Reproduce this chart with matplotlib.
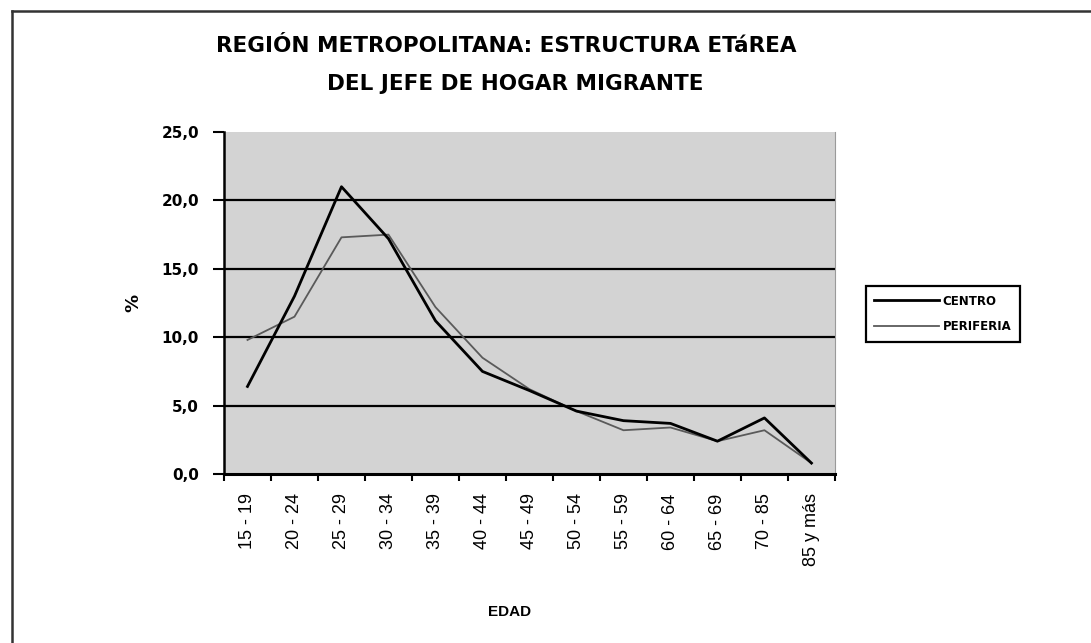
import matplotlib.pyplot as plt
import matplotlib.lines as mlines
import numpy as np

# Data
edades = ['15 - 19', '20 - 24', '25 - 29', '30 - 34', '35 - 39', '40 - 44',
          '45 - 49', '50 - 54', '55 - 59', '60 - 64', '65 - 69', '70 - 85',
          '85 y más']
centro = [6.4, 13.0, 21.0, 17.2, 11.2, 7.5, 6.1, 4.6, 3.9, 3.7, 2.4, 4.1, 0.8]
periferia = [9.8, 11.5, 17.3, 17.5, 12.2, 8.5, 6.2, 4.6, 3.2, 3.4, 2.4, 3.2, 0.8]
y_ticks = [0, 5, 10, 15, 20, 25]
y_labels = ['0,0', '5,0', '10,0', '15,0', '20,0', '25,0']

fig = plt.figure(figsize=(10.91, 6.43), dpi=100)
ax = fig.add_axes([0.2053, 0.2628, 0.560, 0.5319])

x = np.arange(len(edades))
ax.set_facecolor('#d3d3d3')
ax.plot(x, periferia, color='#5a5a5a', linewidth=1.3, zorder=3)
ax.plot(x, centro, color='black', linewidth=2.0, zorder=4)

ax.set_xlim(-0.5, len(edades) - 0.5)
ax.set_ylim(0, 25)

# horizontal gridlines
for v in y_ticks[1:-1]:
    ax.axhline(v, color='black', linewidth=1.6, zorder=2)

ax.set_yticks(y_ticks)
ax.set_yticklabels(y_labels, fontsize=11, fontweight='bold')
ax.tick_params(axis='y', direction='out', length=8, width=1.5, pad=10)

ax.set_xticks(x)
ax.set_xticklabels(edades, rotation=90, fontsize=13, family='Liberation Sans')
ax.set_xticks(np.arange(len(edades) + 1) - 0.5, minor=True)
ax.tick_params(axis='x', which='major', length=0, pad=14)
ax.tick_params(axis='x', which='minor', direction='out', length=5, width=1.5)

ax.spines['top'].set_visible(False)
ax.spines['right'].set_color('#9a9a9a')
ax.spines['right'].set_linewidth(0.8)
ax.spines['left'].set_linewidth(1.8)
ax.spines['bottom'].set_linewidth(2.2)

ax.set_ylabel('%', fontsize=13, fontweight='bold', labelpad=14)
fig.text(510 / 1091, 1 - 612 / 643, 'EDAD', ha='center', va='center',
         fontsize=11, fontweight='bold', family='Liberation Sans')

# title
fig.text(506 / 1091, 1 - 46 / 643, 'REGIÓN METROPOLITANA: ESTRUCTURA ETáREA',
         ha='center', va='center', fontsize=15.5, fontweight='bold')
fig.text(515 / 1091, 1 - 84 / 643, 'DEL JEFE DE HOGAR MIGRANTE',
         ha='center', va='center', fontsize=15.5, fontweight='bold')

# legend
h1 = mlines.Line2D([], [], color='black', linewidth=2.0, label='CENTRO')
h2 = mlines.Line2D([], [], color='#5a5a5a', linewidth=1.3, label='PERIFERIA')
leg = fig.legend(handles=[h1, h2], loc='center left',
                 bbox_to_anchor=(860 / 1091, 1 - 314 / 643),
                 fancybox=False, edgecolor='black', framealpha=1,
                 prop={'size': 8.5, 'weight': 'bold'}, handlelength=5.5,
                 handletextpad=0.3, borderpad=0.7, labelspacing=1.1)
leg.get_frame().set_linewidth(1.6)

# outer border (top and left edges visible)
fig.add_artist(mlines.Line2D([12 / 1091, 1.0], [1 - 11 / 643, 1 - 11 / 643],
                             color='#333333', linewidth=1.8))
fig.add_artist(mlines.Line2D([12 / 1091, 12 / 1091], [0, 1 - 11 / 643],
                             color='#333333', linewidth=1.8))

fig.savefig('out.png', dpi=100, facecolor='white')
